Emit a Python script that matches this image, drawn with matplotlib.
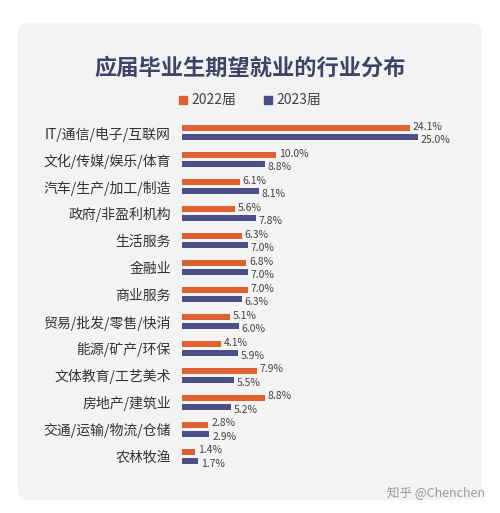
import matplotlib
matplotlib.use("Agg")
import matplotlib.pyplot as plt
from matplotlib.patches import FancyBboxPatch
import numpy as np

plt.rcParams['font.family'] = ['Noto Sans CJK SC', 'DejaVu Sans']

categories = ["IT/通信/电子/互联网", "文化/传媒/娱乐/体育", "汽车/生产/加工/制造", "政府/非盈利机构",
              "生活服务", "金融业", "商业服务", "贸易/批发/零售/快消", "能源/矿产/环保",
              "文体教育/工艺美术", "房地产/建筑业", "交通/运输/物流/仓储", "农林牧渔"]
v2022 = [24.1, 10.0, 6.1, 5.6, 6.3, 6.8, 7.0, 5.1, 4.1, 7.9, 8.8, 2.8, 1.4]
v2023 = [25.0, 8.8, 8.1, 7.8, 7.0, 7.0, 6.3, 6.0, 5.9, 5.5, 5.2, 2.9, 1.7]

c22 = "#e0602f"
c23 = "#4a4f85"
fig = plt.figure(figsize=(5.0, 5.13), dpi=100)
bg = fig.add_axes([0, 0, 1, 1], zorder=0)
bg.set_axis_off()
bg.set_xlim(0, 1); bg.set_ylim(0, 1)
bg.add_patch(FancyBboxPatch((0.036, 0.025), 0.928, 0.93, boxstyle="round,pad=0,rounding_size=0.02",
                            facecolor="#f3f3f4", edgecolor="none"))
ax = fig.add_axes([0.364, 0.084, 0.51, 0.684], zorder=2)
ax.set_facecolor("none")
y = np.arange(len(categories))
off, h = 0.17, 0.24
ax.barh(y - off, v2022, height=h, color=c22)
ax.barh(y + off, v2023, height=h, color=c23)
for i in range(len(categories)):
    ax.text(v2022[i] + 0.3, y[i] - off - 0.05, f"{v2022[i]:.1f}%", fontsize=7.5, color="#444", va="center")
    ax.text(v2023[i] + 0.3, y[i] + off + 0.1, f"{v2023[i]:.1f}%", fontsize=7.5, color="#444", va="center")
ax.set_ylim(len(categories) - 0.5, -0.5)
ax.set_xlim(0, 27)
ax.set_yticks(y)
ax.set_yticklabels(categories, fontsize=10, color="#333")
ax.set_xticks([])
ax.tick_params(axis='y', length=0, pad=8)
for s in ax.spines.values():
    s.set_visible(False)

bg.text(0.5, 0.868, "应届毕业生期望就业的行业分布", ha="center", va="center", fontsize=16,
        fontweight="bold", color="#3d4466")
bg.add_patch(plt.Rectangle((0.357, 0.797), 0.016, 0.016, color=c22))
bg.text(0.382, 0.805, "2022届", fontsize=10, color="#444", va="center")
bg.add_patch(plt.Rectangle((0.527, 0.797), 0.016, 0.016, color=c23))
bg.text(0.552, 0.805, "2023届", fontsize=10, color="#444", va="center")
bg.text(0.97, 0.038, "知乎 @Chenchen", ha="right", va="center", fontsize=9, color="#999")
fig.savefig("out.png", dpi=100, facecolor="white")
